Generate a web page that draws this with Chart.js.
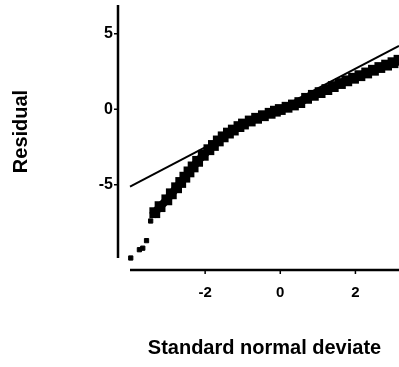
<!DOCTYPE html>
<html>
<head>
<meta charset="utf-8">
<script src="https://cdn.jsdelivr.net/npm/chart.js@4/dist/chart.umd.min.js"></script>
<style>
html,body{margin:0;padding:0;background:#fff;}
canvas{display:block;}
</style>
</head>
<body>
<canvas id="c" width="399" height="367"></canvas>
<script>
// Reference line (two ends)
const refLineX = [-4, 3.16];
const refLineY = [-5.13, 4.2];

// Sparse lower tail of residuals
const tailX = [-3.98, -3.75, -3.66, -3.56, -3.45];
const tailY = [-9.85, -9.3, -9.2, -8.7, -7.4];

// Dense band of ordered residuals
const bandX = [-3.34, -3.2, -3.02, -2.9, -2.76, -2.65, -2.54, -2.43, -2.32, -2.2, -2.05, -1.9, -1.78, -1.65, -1.52, -1.38, -1.25, -1.1, -0.98, -0.8, -0.63, -0.45, -0.27, -0.13, 0, 0.18, 0.35, 0.52, 0.7, 0.88, 1.06, 1.24, 1.41, 1.6, 1.77, 1.95, 2.12, 2.3, 2.48, 2.65, 2.83, 3.0, 3.16];
const bandY = [-6.85, -6.45, -6.0, -5.6, -5.2, -4.85, -4.5, -4.15, -3.82, -3.45, -3.05, -2.68, -2.4, -2.1, -1.83, -1.58, -1.38, -1.15, -0.98, -0.78, -0.6, -0.43, -0.27, -0.13, -0.02, 0.13, 0.28, 0.44, 0.72, 0.92, 1.1, 1.3, 1.5, 1.7, 1.88, 2.05, 2.22, 2.4, 2.58, 2.76, 2.92, 3.08, 3.24];

const xTicks = [-2, 0, 2];
const yTicks = [-5, 0, 5];

const pts = (xs, ys) => xs.map((x, i) => ({x: x, y: ys[i]}));

const axisPlugin = {
  id: 'detachedAxes',
  afterDraw(chart) {
    const ctx = chart.ctx, a = chart.chartArea;
    const xs = chart.scales.x, ys = chart.scales.y;
    ctx.save();
    ctx.strokeStyle = '#000';
    ctx.lineWidth = 2.5;
    const ax = a.left - 12, ay = a.bottom + 12;
    ctx.beginPath();
    ctx.moveTo(ax, a.top); ctx.lineTo(ax, a.bottom);
    ctx.moveTo(a.left, ay); ctx.lineTo(a.right, ay);
    ctx.stroke();
    ctx.lineWidth = 1.5;
    ctx.beginPath();
    xTicks.forEach(v => { const p = xs.getPixelForValue(v); ctx.moveTo(p, ay); ctx.lineTo(p, ay + 4); });
    yTicks.forEach(v => { const p = ys.getPixelForValue(v); ctx.moveTo(ax, p); ctx.lineTo(ax - 4, p); });
    ctx.stroke();
    ctx.restore();
  }
};

const noPad = s => { s.paddingLeft = 0; s.paddingRight = 0; s.paddingTop = 0; s.paddingBottom = 0; };

new Chart(document.getElementById('c'), {
  type: 'scatter',
  data: {
    datasets: [
      {
        data: pts(refLineX, refLineY),
        showLine: true,
        borderColor: '#000',
        borderWidth: 2,
        pointRadius: 0,
        clip: false
      },
      {
        data: pts(bandX, bandY),
        showLine: true,
        borderColor: '#000',
        borderWidth: 8,
        pointStyle: 'rect',
        pointRadius: 2,
        backgroundColor: '#000',
        borderJoinStyle: 'round',
        borderCapStyle: 'square',
        clip: false
      },
      {
        data: pts(tailX, tailY),
        showLine: false,
        pointStyle: 'rect',
        pointRadius: 3,
        backgroundColor: '#000',
        borderColor: '#000',
        clip: false
      }
    ]
  },
  options: {
    responsive: false,
    animation: false,
    layout: {autoPadding: false, padding: {top: 5, right: 0, bottom: 0, left: 0}},
    plugins: {legend: {display: false}, tooltip: {enabled: false}},
    scales: {
      x: {
        type: 'linear',
        position: 'bottom',
        min: -4, max: 3.16,
        grid: {display: false, drawTicks: false},
        border: {display: false},
        afterBuildTicks: s => { s.ticks = xTicks.map(v => ({value: v})); },
        afterFit: s => { s.height = 109; noPad(s); },
        ticks: {
          color: '#000', padding: 26,
          font: {family: "'Liberation Sans', Arial, sans-serif", size: 15, weight: 'bold'},
          callback: v => String(v)
        },
        title: {
          display: true, text: 'Standard normal deviate', color: '#000', padding: 7,
          font: {family: "'Liberation Sans', Arial, sans-serif", size: 20, weight: 'bold'}
        }
      },
      y: {
        type: 'linear',
        position: 'left',
        min: -9.85, max: 6.9,
        grid: {display: false, drawTicks: false},
        border: {display: false},
        afterBuildTicks: s => { s.ticks = yTicks.map(v => ({value: v})); },
        afterFit: s => { s.width = 130; noPad(s); },
        ticks: {
          color: '#000', padding: 17,
          font: {family: "'Liberation Sans', Arial, sans-serif", size: 16, weight: 'bold'},
          callback: v => String(v)
        },
        title: {
          display: true, text: 'Residual', color: '#000', padding: 9,
          font: {family: "'Liberation Sans', Arial, sans-serif", size: 20, weight: 'bold'}
        }
      }
    }
  },
  plugins: [axisPlugin]
});
</script>
</body>
</html>
